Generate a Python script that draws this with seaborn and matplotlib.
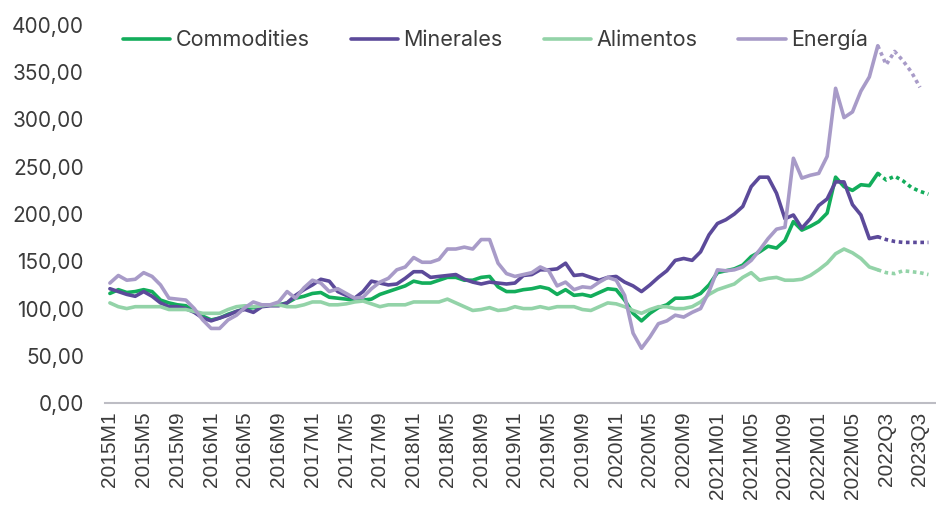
import numpy as np
import pandas as pd
import matplotlib
matplotlib.use("Agg")
import matplotlib.pyplot as plt
from matplotlib.ticker import FuncFormatter
import seaborn as sns

# periodos: mensual 2015M1 - 2022M08, luego trimestral
periodos = ([f"{a}M{m}" for a in range(2015, 2021) for m in range(1, 13)]
            + [f"{a}M{m:02d}" for a in (2021, 2022) for m in range(1, 13)][:20]
            + ["2022Q3", "2022Q4", "2023Q1", "2023Q2", "2023Q3", "2023Q4"])

commodities = [116, 120, 117, 118, 120, 118, 109, 106, 104, 103, 97, 92,
               88, 90, 94, 97, 100, 101, 103, 104, 104, 106, 111, 113,
               116, 117, 112, 111, 110, 109, 109, 110, 115, 118, 121, 124,
               129, 127, 127, 130, 133, 133, 130, 130, 133, 134, 123, 118,
               118, 120, 121, 123, 121, 115, 120, 114, 115, 113, 117, 121,
               120, 109, 95, 87, 95, 101, 104, 111, 111, 112, 116, 125,
               138, 140, 142, 146, 155, 160, 166, 164, 172, 192, 183, 187,
               192, 201, 239, 229, 225, 231, 230, 243]
minerales = [121, 118, 115, 113, 118, 113, 106, 102, 102, 100, 96, 90,
             87, 90, 93, 97, 99, 96, 102, 103, 103, 106, 114, 120,
             125, 131, 129, 118, 114, 111, 118, 129, 127, 125, 126, 132,
             139, 139, 133, 134, 135, 136, 131, 128, 126, 128, 127, 126,
             127, 135, 136, 141, 141, 142, 148, 135, 136, 133, 130, 133,
             134, 128, 124, 118, 125, 133, 140, 151, 153, 151, 160, 178,
             190, 194, 200, 208, 229, 239, 239, 222, 195, 199, 185, 195,
             209, 216, 234, 234, 210, 199, 174, 176]
alimentos = [106, 102, 100, 102, 102, 102, 102, 99, 99, 99, 97, 95,
             95, 95, 99, 102, 103, 102, 103, 104, 104, 102, 102, 104,
             107, 107, 104, 104, 105, 107, 108, 105, 102, 104, 104, 104,
             107, 107, 107, 107, 110, 106, 102, 98, 99, 101, 98, 99,
             102, 100, 100, 102, 100, 102, 102, 102, 99, 98, 102, 106,
             105, 102, 98, 95, 99, 102, 102, 100, 100, 102, 107, 115,
             120, 123, 126, 133, 138, 130, 132, 133, 130, 130, 131, 135,
             141, 148, 158, 163, 159, 153, 144, 141]
energia = [127, 135, 130, 131, 138, 134, 125, 111, 110, 109, 100, 88,
           79, 79, 88, 93, 101, 107, 104, 104, 107, 118, 111, 122,
           130, 127, 118, 121, 116, 111, 112, 121, 128, 132, 141, 144,
           154, 149, 149, 152, 163, 163, 165, 163, 173, 173, 148, 137,
           134, 136, 138, 144, 140, 124, 128, 120, 123, 122, 128, 133,
           130, 114, 74, 58, 70, 84, 87, 93, 91, 96, 100, 118,
           141, 140, 141, 144, 151, 162, 174, 184, 186, 259, 238, 241,
           243, 261, 333, 302, 308, 330, 345, 378]

# proyecciones (desde el ultimo dato observado)
commodities_proy = [243, 236, 240, 235, 228, 224, 221]
minerales_proy = [176, 173, 171, 170, 170, 170, 170]
alimentos_proy = [141, 138, 137, 140, 139, 138, 136]
energia_proy = [378, 358, 372, 362, 350, 334]

series = [("Commodities", commodities, commodities_proy, "#13ad5b"),
          ("Minerales", minerales, minerales_proy, "#5c4a9a"),
          ("Alimentos", alimentos, alimentos_proy, "#93d3a8"),
          ("Energía", energia, energia_proy, "#a89bc8")]

sns.set_style("white")
plt.rcParams["font.family"] = ["Inter", "DejaVu Sans"]
texto = "#3b3b3b"

fig = plt.figure(figsize=(9.36, 5.09), dpi=100)
ax = fig.add_axes([0.112, 0.208, 0.888, 0.743])

n_obs = len(commodities)
for nombre, obs, proy, color in series:
    sns.lineplot(x=np.arange(n_obs), y=obs, ax=ax, color=color, lw=2.6,
                 label=nombre)
    xp = np.arange(n_obs - 1, n_obs - 1 + len(proy))
    sns.lineplot(x=xp, y=proy, ax=ax, color=color, lw=2.6,
                 linestyle=(0, (1, 1)))

ax.set_ylim(0, 400)
ax.set_xlim(-0.6, 97.9)
ax.set_yticks(np.arange(0, 401, 50))
ax.yaxis.set_major_formatter(FuncFormatter(lambda v, p: f"{v:.2f}".replace(".", ",")))
ax.set_xticks(range(0, len(periodos), 4))
ax.set_xticklabels(periodos[::4], rotation=90, family="Liberation Sans",
                   fontsize=15, color=texto)
ax.tick_params(axis="y", length=0, pad=15, labelsize=15, labelcolor=texto)
ax.tick_params(axis="x", length=0, pad=6)
for lado in ("top", "right", "left"):
    ax.spines[lado].set_visible(False)
ax.spines["bottom"].set_color("#bdbdc4")
ax.spines["bottom"].set_linewidth(1.5)
ax.grid(False)

leg = ax.legend(loc="center", bbox_to_anchor=(0.47, 0.96), ncol=4,
                frameon=False, fontsize=15.5, handlelength=2.2,
                handletextpad=0.25, columnspacing=1.9)
for t in leg.get_texts():
    t.set_color(texto)

fig.savefig("out.png", dpi=100)
